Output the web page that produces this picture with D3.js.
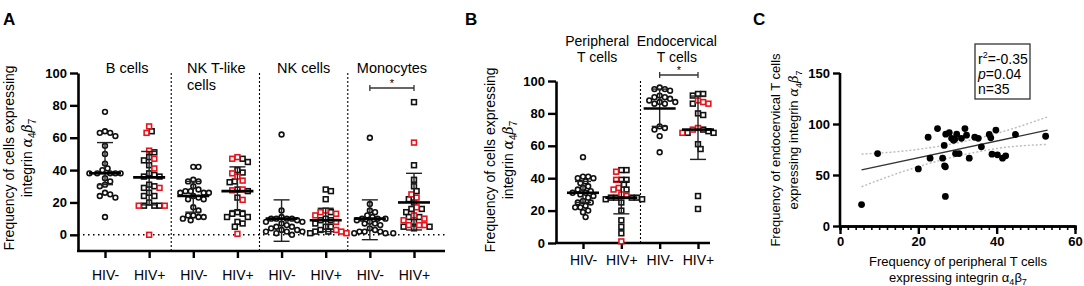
<!DOCTYPE html>
<html lang="en">
<head>
<meta charset="UTF-8">
<title>Integrin a4b7 expression</title>
<script src="https://d3js.org/d3.v7.min.js"></script>
<style>
  body { margin: 0; background: #fff; font-family: Arial, "Liberation Sans", sans-serif; }
  svg text { fill: #000; font-family: Arial, "Liberation Sans", sans-serif; }
  .tick text { font-weight: bold; font-size: 13px; }
  .tick text.cat { font-weight: normal; font-size: 14px; }
  .grp-title { font-size: 14.5px; }
  .grp-title-b { font-size: 14px; }
  .ax-lbl { font-size: 14px; }
  .ax-lbl-c { font-size: 13px; }
  .panel-lbl { font-size: 17px; font-weight: bold; }
</style>
</head>
<body>
<svg width="1084" height="286"></svg>
<script>
// ---- data, panel A ----
const groupsA = ["B cells", "NK T-like cells", "NK cells", "Monocytes"];
const arms = ["HIV-", "HIV+"];

const bNeg = [76, 64, 63, 63, 61, 55, 50, 44, 41, 40, 38, 38, 38, 38, 38, 35, 33, 31, 30, 26, 25, 24, 23, 11];
const bPosBlack = [64, 51, 48, 46, 43, 38, 37, 36, 36, 31, 30, 29, 26, 24, 24, 20, 18, 18, 18];
const bPosRed = [67, 63, 52, 47, 41, 29, 18, 18, 0];

const nktNeg = [42, 42, 34, 33, 33, 30, 28, 27, 27, 26, 26, 26, 24, 23, 22, 22, 17, 15, 12, 12, 11, 11, 10, 9];
const nktPosBlack = [47, 45, 40, 38.5, 33, 32.5, 28, 27, 23, 14, 13, 13, 11, 11, 8, 7, 5];
const nktPosRed = [48, 47, 38, 36, 33.5, 28, 27.5, 21.6, 0.6];

const nkNeg = [62, 15, 11, 10, 10, 10, 10, 9, 8, 8, 7, 6, 5, 5, 4, 3, 3, 2, 2, 2, 1, 0];
const nkPosBlack = [28, 27, 22, 14, 10, 9, 9, 7, 5, 5, 3, 2, 2, 1];
const nkPosRed = [15, 14, 13, 12, 8, 3, 2, 1];

const monoNeg = [60, 19, 15, 14, 12, 11, 10, 10, 10, 9, 8, 7, 7, 6, 4, 3, 2, 2, 2, 1, 1, 1];
const monoPosBlack = [82, 43, 34, 30, 27, 22, 20, 16, 16, 14, 11, 11, 8, 5, 5, 4];
const monoPosRed = [57, 25, 23, 17, 12, 10, 9, 6, 6, 6];

// median and whisker ends, one per column (HIV-, HIV+ for each group)
const medianA = [38, 35.5, 24, 27, 10, 9, 10, 20];
const upperA = [57, 51.5, 33, 42, 21.6, 16.4, 21.6, 38];
const lowerA = [31, 18.5, 14, 15, -4, 2, -3, 3];

// ---- data, panel B ----
const groupsB = ["Peripheral T cells", "Endocervical T cells"];
const perNeg = [53, 41, 41, 40, 40, 38, 37, 35, 34, 33, 32, 31, 31, 30, 29, 28, 26, 25, 25, 23, 22, 22, 20, 19, 16];
const perPosBlack = [45, 45, 39, 39, 36, 33, 28, 28, 28, 28, 27, 27, 25, 20, 14, 10, 6];
const perPosRed = [44, 39, 34, 33, 30, 29, 1];
const endoNeg = [96, 95, 95, 94, 91, 90, 90, 89, 88, 87, 87, 86, 86, 72, 71, 70, 66, 56];
const endoPosBlack = [92, 92, 91, 86, 80, 79, 70, 69, 68, 68, 61, 58, 29, 21];
const endoPosRed = [88, 87, 86, 71, 70, 68];
const medianB = [31, 28, 83, 70];
const upperB = [38, 38, 95, 90.7];
const lowerB = [25, 18, 72, 51.6];

// ---- data, panel C ----
const periX = [5.5, 9.6, 20, 22.5, 23, 24.9, 26.2, 26.6, 26.7, 26.9, 26.9, 27, 27.9, 28.5, 29, 29.3, 29.5, 29.8, 30.4, 31, 31.9, 32.3, 33, 34.4, 35.3, 36.1, 38.1, 38.5, 38.8, 39.8, 40.2, 41.5, 42.3, 44.8, 52.5];
const endoY = [21, 71, 56, 87, 66.5, 95.5, 66.5, 79, 59, 58, 29, 90, 91.6, 86, 84, 85, 71, 90, 71, 86, 95.5, 89, 66.5, 87, 86, 77.6, 89.7, 86.4, 70.4, 94, 69.8, 66.5, 68.8, 89.7, 88];
const fitX = [5.5, 53];
const fitY = [55, 94];
const bandX = [5.5, 15, 30, 42, 53];
const bandUpper = [70.5, 73, 81.5, 93, 107];
const bandLower = [38.5, 52, 68.5, 77, 80];
const statLines = ["r2=-0.35", "p=0.04", "n=35"];

const RED = "#e8141c", BLACK = "#111";
const svg = d3.select("svg");

// dodge points horizontally so markers do not overlap too much
function dodge(points, minDist) {
  const sorted = points.slice().sort((a, b) => a.py - b.py);
  const placed = [];
  sorted.forEach(p => {
    for (let k = 0; k < 40; k++) {
      const step = Math.ceil(k / 2) * (minDist * 0.5) * (k % 2 ? 1 : -1);
      const ok = placed.every(q => Math.hypot(q.dx - step, q.py - p.py) >= minDist);
      if (ok) { p.dx = step; break; }
    }
    placed.push(p);
  });
  return sorted;
}

function alphaBeta(text, size) {
  text.append("tspan").text("integrin ");
  text.append("tspan").attr("font-family", "DejaVu Serif, serif").attr("font-style", "italic").text("\u03b1");
  text.append("tspan").attr("font-size", size - 4).attr("dy", 4).text("4");
  text.append("tspan").attr("font-family", "DejaVu Serif, serif").attr("font-style", "italic").attr("dy", -4).text("\u03b2");
  text.append("tspan").attr("font-size", size - 4).attr("dy", 4).text("7");
}

function dotColumn(g, y, cx, blackVals, redVals, shape) {
  const pts = blackVals.map(v => ({ v, col: BLACK, py: y(v) }))
    .concat(redVals.map(v => ({ v, col: RED, py: y(v) })));
  dodge(pts, 5.2);
  pts.sort((a, b) => (a.col === RED) - (b.col === RED));
  if (shape === "circle") {
    g.selectAll(null).data(pts).join("circle")
      .attr("cx", d => cx + d.dx).attr("cy", d => d.py).attr("r", 2.4)
      .attr("fill", "#fff").attr("stroke", d => d.col).attr("stroke-width", 1.6);
  } else {
    g.selectAll(null).data(pts).join("rect")
      .attr("x", d => cx + d.dx - 2.4).attr("y", d => d.py - 2.4)
      .attr("width", 4.8).attr("height", 4.8)
      .attr("fill", "#fff").attr("stroke", d => d.col).attr("stroke-width", 1.6);
  }
}

function summary(g, y, cx, med, hi, lo) {
  g.append("line").attr("x1", cx).attr("x2", cx).attr("y1", y(hi)).attr("y2", y(lo))
    .attr("stroke", "#222").attr("stroke-width", 1.4);
  [hi, lo].forEach(v => g.append("line").attr("x1", cx - 8).attr("x2", cx + 8)
    .attr("y1", y(v)).attr("y2", y(v)).attr("stroke", "#222").attr("stroke-width", 1.4));
  g.append("line").attr("x1", cx - 16).attr("x2", cx + 16).attr("y1", y(med)).attr("y2", y(med))
    .attr("stroke", "#000").attr("stroke-width", 2.6);
}

function sigBar(g, x1, x2, yy) {
  g.append("line").attr("x1", x1).attr("x2", x2).attr("y1", yy).attr("y2", yy).attr("stroke", "#333").attr("stroke-width", 1.3);
  [x1, x2].forEach(x => g.append("line").attr("x1", x).attr("x2", x).attr("y1", yy - 3).attr("y2", yy + 3).attr("stroke", "#333").attr("stroke-width", 1.3));
  g.append("text").attr("x", (x1 + x2) / 2).attr("y", yy - 1).attr("text-anchor", "middle").attr("font-size", 11).text("*");
}

function styleAxis(sel) {
  sel.select(".domain").attr("stroke", "#000").attr("stroke-width", 2.6);
  sel.selectAll(".tick line").attr("stroke", "#000").attr("stroke-width", 2.4);
}

// ================= Panel A =================
{
  const g = svg.append("g");
  const y = d3.scaleLinear().domain([-10, 100]).range([251, 73]);
  const cols = groupsA.flatMap(gr => arms.map(a => gr + "|" + a));
  const x = d3.scalePoint().domain(cols).range([105, 414]);

  [[1, 2], [3, 4], [5, 6]].forEach(([a, b]) => {
    const sx = (x(cols[a]) + x(cols[b])) / 2;
    g.append("line").attr("x1", sx).attr("x2", sx).attr("y1", 73).attr("y2", 251)
      .attr("stroke", "#000").attr("stroke-width", 1.1).attr("stroke-dasharray", "2,2");
  });
  g.append("line").attr("x1", 78).attr("x2", 445).attr("y1", y(0)).attr("y2", y(0))
    .attr("stroke", "#000").attr("stroke-width", 1.5).attr("stroke-dasharray", "1.5,3.5");

  const ya = g.append("g").attr("transform", "translate(78,0)")
    .call(d3.axisLeft(y).tickValues([0, 20, 40, 60, 80, 100]).tickSize(8).tickSizeOuter(0).tickPadding(3));
  styleAxis(ya);
  const xa = g.append("g").attr("transform", "translate(0,251)")
    .call(d3.axisBottom(x).tickSize(7).tickSizeOuter(0).tickPadding(12).tickFormat(d => d.split("|")[1]));
  styleAxis(xa);
  xa.select(".domain").remove();
  xa.selectAll(".tick text").attr("class", "cat");
  g.append("line").attr("x1", 77).attr("x2", 445).attr("y1", 251).attr("y2", 251)
    .attr("stroke", "#000").attr("stroke-width", 2.6);

  const sets = [[bNeg, []], [bPosBlack, bPosRed], [nktNeg, []], [nktPosBlack, nktPosRed],
                [nkNeg, []], [nkPosBlack, nkPosRed], [monoNeg, []], [monoPosBlack, monoPosRed]];
  sets.forEach(([blk, red], i) => {
    const cx = x(cols[i]);
    dotColumn(g, y, cx, blk, red, i % 2 ? "square" : "circle");
    summary(g, y, cx, medianA[i], upperA[i], lowerA[i]);
  });

  const mid = i => (x(cols[2 * i]) + x(cols[2 * i + 1])) / 2;
  g.append("text").attr("class", "grp-title").attr("x", mid(0)).attr("y", 73).attr("text-anchor", "middle").text(groupsA[0]);
  const nkt = g.append("text").attr("class", "grp-title").attr("x", 187).attr("y", 73);
  nkt.append("tspan").text("NK T-like");
  nkt.append("tspan").attr("x", 187).attr("dy", 17).text("cells");
  g.append("text").attr("class", "grp-title").attr("x", mid(2)).attr("y", 73).attr("text-anchor", "middle").text(groupsA[2]);
  g.append("text").attr("class", "grp-title").attr("x", mid(3)).attr("y", 73).attr("text-anchor", "middle").text(groupsA[3]);

  sigBar(g, x(cols[6]), x(cols[7]), 88);

  g.append("text").attr("class", "ax-lbl").attr("text-anchor", "middle")
    .attr("transform", "translate(14,158) rotate(-90)").text("Frequency of cells expressing");
  const l2 = g.append("text").attr("class", "ax-lbl").attr("text-anchor", "middle")
    .attr("transform", "translate(32,158) rotate(-90)");
  alphaBeta(l2, 14);

  g.append("text").attr("class", "panel-lbl").attr("x", 3).attr("y", 25).text("A");
}

// ================= Panel B =================
{
  const g = svg.append("g");
  const y = d3.scaleLinear().domain([0, 100]).range([243, 81]);
  const cols = groupsB.flatMap(gr => arms.map(a => gr + "|" + a));
  const x = d3.scalePoint().domain(cols).range([583, 698]);

  const sx = (x(cols[1]) + x(cols[2])) / 2;
  g.append("line").attr("x1", sx).attr("x2", sx).attr("y1", 81).attr("y2", 243)
    .attr("stroke", "#000").attr("stroke-width", 1.1).attr("stroke-dasharray", "2,2");

  const ya = g.append("g").attr("transform", "translate(556,0)")
    .call(d3.axisLeft(y).tickValues([0, 20, 40, 60, 80, 100]).tickSize(8).tickSizeOuter(0).tickPadding(3));
  styleAxis(ya);
  const xa = g.append("g").attr("transform", "translate(0,243)")
    .call(d3.axisBottom(x).tickSize(6).tickSizeOuter(0).tickPadding(6).tickFormat(d => d.split("|")[1]));
  styleAxis(xa);
  xa.select(".domain").remove();
  xa.selectAll(".tick text").attr("class", "cat");
  g.append("line").attr("x1", 555).attr("x2", 710).attr("y1", 243).attr("y2", 243)
    .attr("stroke", "#000").attr("stroke-width", 2.6);

  const sets = [[perNeg, []], [perPosBlack, perPosRed], [endoNeg, []], [endoPosBlack, endoPosRed]];
  sets.forEach(([blk, red], i) => {
    const cx = x(cols[i]);
    dotColumn(g, y, cx, blk, red, i % 2 ? "square" : "circle");
    summary(g, y, cx, medianB[i], upperB[i], lowerB[i]);
  });

  // titles sit a little left of the column pair centre
  const titleShift = [-5, -2];
  groupsB.forEach((gr, i) => {
    const m = (x(cols[2 * i]) + x(cols[2 * i + 1])) / 2 + titleShift[i];
    const words = gr.split(" ");
    const t = g.append("text").attr("class", "grp-title-b").attr("text-anchor", "middle").attr("y", 46);
    t.append("tspan").attr("x", m).text(words[0]);
    t.append("tspan").attr("x", m).attr("dy", 16).text(words.slice(1).join(" "));
  });

  sigBar(g, x(cols[2]), x(cols[3]), 75);

  g.append("text").attr("class", "ax-lbl").attr("text-anchor", "middle")
    .attr("transform", "translate(495,160) rotate(-90)").text("Frequency of cells expressing");
  const l2 = g.append("text").attr("class", "ax-lbl").attr("text-anchor", "middle")
    .attr("transform", "translate(513,160) rotate(-90)");
  alphaBeta(l2, 14);

  g.append("text").attr("class", "panel-lbl").attr("x", 465).attr("y", 25).text("B");
}

// ================= Panel C =================
{
  const g = svg.append("g");
  const x = d3.scaleLinear().domain([0, 60]).range([840, 1075]);
  const y = d3.scaleLinear().domain([0, 150]).range([226, 73]);

  const ya = g.append("g").attr("transform", "translate(840,0)")
    .call(d3.axisLeft(y).tickValues([0, 50, 100, 150]).tickSize(7).tickSizeOuter(0).tickPadding(3));
  styleAxis(ya);
  const xmin = g.append("g").attr("transform", "translate(0,226)")
    .call(d3.axisBottom(x).tickValues(d3.range(0, 61, 2)).tickSize(4).tickFormat(""));
  styleAxis(xmin);
  xmin.selectAll(".tick line").attr("stroke-width", 1.6);
  const xa = g.append("g").attr("transform", "translate(0,226)")
    .call(d3.axisBottom(x).tickValues([0, 20, 40, 60]).tickSize(8).tickSizeOuter(0).tickPadding(3));
  styleAxis(xa);
  ya.select(".domain").attr("d", "M0," + (y(150)) + "V" + (y(0) + 1.3));

  const line = d3.line().x(d => x(d[0])).y(d => y(d[1])).curve(d3.curveMonotoneX);
  [bandUpper, bandLower].forEach(b => {
    g.append("path").attr("d", line(bandX.map((v, i) => [v, b[i]])))
      .attr("fill", "none").attr("stroke", "#bbb").attr("stroke-width", 1.4).attr("stroke-dasharray", "2,2");
  });
  g.append("path").attr("d", line(fitX.map((v, i) => [v, fitY[i]])))
    .attr("fill", "none").attr("stroke", "#333").attr("stroke-width", 1.4);

  g.selectAll(null).data(periX.map((v, i) => [v, endoY[i]])).join("circle")
    .attr("cx", d => x(d[0])).attr("cy", d => y(d[1])).attr("r", 3.4).attr("fill", "#000");

  // stat box
  g.append("rect").attr("x", 975).attr("y", 44).attr("width", 55).attr("height", 55)
    .attr("fill", "none").attr("stroke", "#333").attr("stroke-width", 1.3);
  const s1 = g.append("text").attr("x", 978).attr("y", 64).attr("font-size", 14);
  s1.append("tspan").text("r");
  s1.append("tspan").attr("font-size", 9).attr("dy", -6).text("2");
  s1.append("tspan").attr("dy", 6).text(statLines[0].slice(2));
  const s2 = g.append("text").attr("x", 978).attr("y", 79).attr("font-size", 14);
  s2.append("tspan").attr("font-style", "italic").text("p");
  s2.append("tspan").text(statLines[1].slice(1));
  g.append("text").attr("x", 978).attr("y", 94).attr("font-size", 14).text(statLines[2]);

  g.append("text").attr("class", "ax-lbl-c").attr("text-anchor", "middle").attr("x", 958).attr("y", 266)
    .text("Frequency of peripheral T cells");
  const xl2 = g.append("text").attr("class", "ax-lbl-c").attr("text-anchor", "middle").attr("x", 958).attr("y", 282);
  xl2.append("tspan").text("expressing integrin \u03b1");
  xl2.append("tspan").attr("font-size", 9).attr("dy", 3).text("4");
  xl2.append("tspan").attr("dy", -3).text("\u03b2");
  xl2.append("tspan").attr("font-size", 9).attr("dy", 3).text("7");

  g.append("text").attr("class", "ax-lbl-c").attr("text-anchor", "middle")
    .attr("transform", "translate(780,150) rotate(-90)").text("Frequency of endocervical T cells");
  const yl2 = g.append("text").attr("class", "ax-lbl-c").attr("text-anchor", "middle")
    .attr("transform", "translate(798,140) rotate(-90)");
  yl2.append("tspan").text("expressing ");
  alphaBeta(yl2, 13);

  g.append("text").attr("class", "panel-lbl").attr("x", 753).attr("y", 25).text("C");
}
</script>
</body>
</html>
